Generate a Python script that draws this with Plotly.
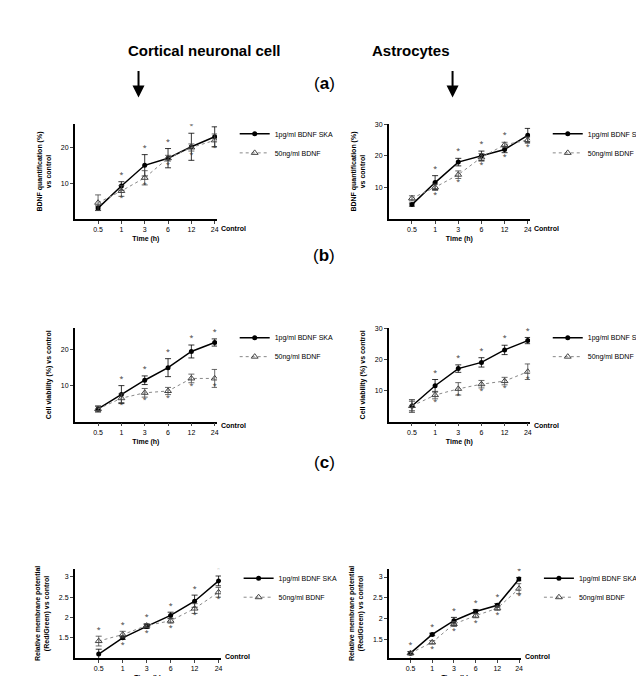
import plotly.graph_objects as go

W, H = 644, 676
times = ["0.5", "1", "3", "6", "12", "24"]
xpos = [0, 1, 2, 3, 4, 5]

# (b) BDNF quantification
bdnf_cort_ska = [3.0, 9.2, 15.0, 17.0, 20.2, 23.0]
bdnf_cort_ska_err = [0.6, 1.2, 3.0, 2.7, 3.8, 2.8]
bdnf_cort_std = [4.5, 7.8, 11.5, 17.0, 20.0, 22.0]
bdnf_cort_std_err = [2.2, 1.5, 2.0, 0.8, 1.0, 1.8]
bdnf_astro_ska = [4.5, 11.5, 18.0, 20.0, 22.0, 26.5]
bdnf_astro_ska_err = [0.5, 2.2, 1.2, 1.5, 1.0, 2.2]
bdnf_astro_std = [6.5, 10.0, 14.0, 19.5, 23.5, 25.0]
bdnf_astro_std_err = [0.8, 1.0, 1.2, 1.2, 0.8, 1.0]

# (c) cell viability
via_cort_ska = [3.5, 7.5, 11.5, 15.0, 19.5, 22.0]
via_cort_ska_err = [0.8, 2.5, 1.2, 2.5, 1.8, 1.0]
via_cort_std = [3.5, 6.5, 8.0, 8.5, 12.0, 12.0]
via_cort_std_err = [0.8, 1.2, 1.2, 1.0, 1.2, 2.5]
via_astro_ska = [5.0, 11.5, 17.0, 19.0, 23.0, 26.0]
via_astro_ska_err = [2.0, 2.0, 1.2, 1.5, 1.5, 1.0]
via_astro_std = [5.0, 8.5, 10.5, 12.0, 13.0, 16.0]
via_astro_std_err = [1.5, 1.2, 2.0, 1.2, 1.2, 2.5]

# membrane potential
mp_cort_ska = [1.10, 1.50, 1.78, 2.05, 2.40, 2.90]
mp_cort_ska_err = [0.12, 0.04, 0.05, 0.08, 0.15, 0.12]
mp_cort_std = [1.42, 1.58, 1.80, 1.92, 2.22, 2.62]
mp_cort_std_err = [0.12, 0.08, 0.05, 0.06, 0.12, 0.12]
mp_astro_ska = [1.17, 1.62, 1.95, 2.17, 2.32, 2.95]
mp_astro_ska_err = [0.04, 0.03, 0.08, 0.05, 0.04, 0.04]
mp_astro_std = [1.17, 1.43, 1.87, 2.07, 2.25, 2.72]
mp_astro_std_err = [0.03, 0.04, 0.06, 0.05, 0.05, 0.12]

panels = [
    # left px, right px, top px, bottom px, ska, ska_err, std, std_err, yrange, ticks, ylabel
    (68, 213, 113, 208, bdnf_cort_ska, bdnf_cort_ska_err, bdnf_cort_std, bdnf_cort_std_err,
     [0, 26.5], [10, 20], "BDNF quantification (%)<br>vs control"),
    (388, 532, 113, 208, bdnf_astro_ska, bdnf_astro_ska_err, bdnf_astro_std, bdnf_astro_std_err,
     [0, 30], [10, 20, 30], "BDNF quantification (%)<br>vs control"),
    (68, 213, 318, 412, via_cort_ska, via_cort_ska_err, via_cort_std, via_cort_std_err,
     [0, 26], [10, 20], "Cell viability (%) vs control"),
    (388, 532, 318, 412, via_astro_ska, via_astro_ska_err, via_astro_std, via_astro_std_err,
     [0, 30], [10, 20, 30], "Cell viability (%) vs control"),
    (68, 217, 560, 650, mp_cort_ska, mp_cort_ska_err, mp_cort_std, mp_cort_std_err,
     [1.0, 3.2], [1.5, 2.0, 2.5, 3.0], "Relative membrane potential<br>(Red/Green) vs control"),
    (388, 523, 560, 650, mp_astro_ska, mp_astro_ska_err, mp_astro_std, mp_astro_std_err,
     [1.05, 3.2], [1.5, 2.0, 2.5, 3.0], "Relative membrane potential<br>(Red/Green) vs control"),
]

fig = go.Figure()
font = dict(family="Liberation Sans, Arial", size=7, color="black")
layout = {}
for i, (l, r, t, b, ska, skae, std, stde, yr, ticks, ylab) in enumerate(panels):
    n = "" if i == 0 else str(i + 1)
    xa, ya = "x" + n, "y" + n
    lg = "legend" + n
    span = yr[1] - yr[0]
    fig.add_trace(go.Scatter(x=xpos, y=ska, xaxis=xa, yaxis=ya, mode="lines+markers",
                             name="1pg/ml BDNF SKA", legend=lg,
                             line=dict(color="black", width=1.5),
                             marker=dict(symbol="circle", size=5, color="black"),
                             error_y=dict(array=skae, color="black", thickness=0.8, width=3)))
    fig.add_trace(go.Scatter(x=xpos, y=std, xaxis=xa, yaxis=ya, mode="lines+markers",
                             name="50ng/ml BDNF", legend=lg,
                             line=dict(color="#888", width=1, dash="dot"),
                             marker=dict(symbol="triangle-up-open", size=6, color="#444"),
                             error_y=dict(array=stde, color="#444", thickness=0.8, width=3)))
    # significance asterisks
    top = [max(a + ea, c + ec) + 0.07 * span for a, ea, c, ec in zip(ska, skae, std, stde)]
    bot = [min(a, c) - 0.08 * span for a, c in zip(ska, std)]
    sl = slice(1, None) if i < 4 else slice(None)
    fig.add_trace(go.Scatter(x=xpos[sl], y=top[sl], xaxis=xa, yaxis=ya, mode="text", text="*",
                             textfont=dict(size=7, color="#333"), showlegend=False))
    fig.add_trace(go.Scatter(x=xpos[sl], y=bot[sl], xaxis=xa, yaxis=ya, mode="text", text="*",
                             textfont=dict(size=7, color="#333"), showlegend=False))
    layout["xaxis" + n] = dict(domain=[l / W, r / W], anchor=ya, range=[-1, 5.1],
                               tickvals=xpos, ticktext=times, showline=True, linecolor="black",
                               linewidth=1.5, ticks="outside", ticklen=3, showgrid=False,
                               zeroline=False, tickfont=dict(font, size=7),
                               title=dict(text="<b>Time (h)</b>", font=font, standoff=4))
    layout["yaxis" + n] = dict(domain=[1 - b / H, 1 - t / H], anchor=xa, range=yr,
                               tickvals=ticks, showline=True, linecolor="black", linewidth=1.5,
                               ticks="outside", ticklen=3, showgrid=False, zeroline=False,
                               tickfont=dict(font, size=7),
                               title=dict(text="<b>" + ylab + "</b>", font=font, standoff=8))
    layout[lg] = dict(x=(r + 18) / W, y=1 - (t - 5) / H, xanchor="left", yanchor="top",
                      bgcolor="rgba(0,0,0,0)", font=dict(font, size=7), tracegroupgap=2)
    fig.add_annotation(x=(r + 2) / W, y=1 - (b + 4) / H, xref="paper", yref="paper",
                       text="<b>Control</b>", showarrow=False, xanchor="left", font=font)

big = dict(family="Liberation Sans, Arial", size=15, color="black")
for txt, x, y in [("<b>Cortical neuronal cell</b>", 120, 28), ("<b>Astrocytes</b>", 452, 28)]:
    fig.add_annotation(x=x / W, y=1 - y / H, xref="paper", yref="paper", text=txt,
                       showarrow=False, font=big)
for txt, y in [("(<b>a</b>)", 60), ("(<b>b</b>)", 245), ("(<b>c</b>)", 465)]:
    fig.add_annotation(x=322 / W, y=1 - y / H, xref="paper", yref="paper", text=txt,
                       showarrow=False, font=dict(big, size=17))
for ax in (133, 453):
    fig.add_annotation(x=ax / W, y=1 - 86 / H, ax=0, ay=-28, xref="paper", yref="paper",
                       text="", showarrow=True, arrowhead=2, arrowsize=1.2, arrowwidth=2,
                       arrowcolor="black")

fig.update_layout(width=W, height=H, margin=dict(l=0, r=0, t=0, b=0),
                  plot_bgcolor="white", paper_bgcolor="white", **layout)
fig.write_html("out.html")
